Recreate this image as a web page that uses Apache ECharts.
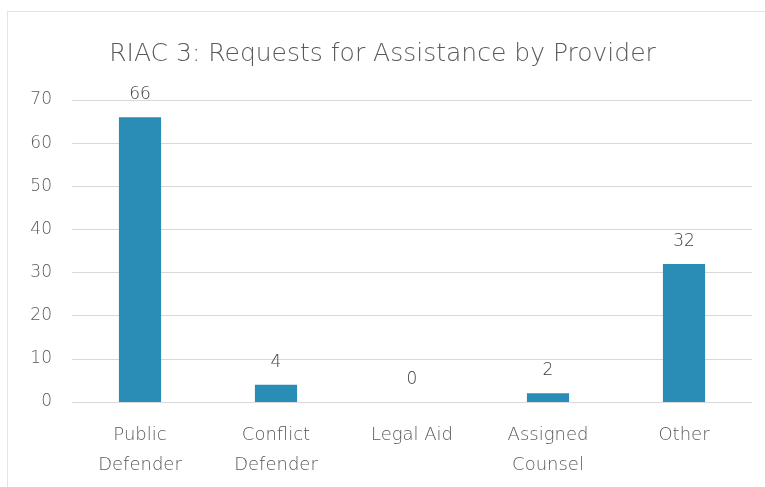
<!DOCTYPE html>
<html>
<head>
<meta charset="utf-8">
<script src="https://cdn.jsdelivr.net/npm/echarts@6/dist/echarts.min.js"></script>
<style>
    html, body { margin: 0; padding: 0; background: #fff; }
    #wrap { position: relative; width: 765px; height: 487px; overflow: hidden; }
    #frame { position: absolute; left: 7px; top: 11px; width: 800px; height: 520px; border: 1px solid #e3e3e3; }
    #main { position: absolute; left: 0; top: 0; width: 765px; height: 487px; }
</style>
</head>
<body>
<div id="wrap">
    <div id="frame"></div>
    <div id="main"></div>
</div>
<script>
// 图表数据
var categories = ["Public\nDefender", "Conflict\nDefender", "Legal Aid", "Assigned\nCounsel", "Other"];
var requests = [66, 4, 0, 2, 32];
var yTicks = [0, 10, 20, 30, 40, 50, 60, 70];

var myChart = echarts.init(document.getElementById('main'));
var font = '"DejaVu Sans", sans-serif';

var option = {
    animation: false,
    title: {
        text: "RIAC 3: Requests for Assistance by Provider",
        left: 'center',
        top: 37,
        textStyle: { fontFamily: font, fontWeight: 200, fontSize: 25, color: '#595959' }
    },
    grid: { left: 72, right: 13, top: 100, bottom: 85 },
    xAxis: {
        type: 'category',
        data: categories,
        axisLine: { lineStyle: { color: '#d9d9d9' } },
        axisTick: { show: false },
        axisLabel: {
            fontFamily: font, fontWeight: 200, fontSize: 18, color: '#595959',
            lineHeight: 30, margin: 18
        }
    },
    yAxis: {
        type: 'value',
        min: yTicks[0],
        max: yTicks[yTicks.length - 1],
        interval: 10,
        axisLine: { show: false },
        axisTick: { show: false },
        splitLine: { lineStyle: { color: '#d9d9d9' } },
        axisLabel: { fontFamily: font, fontWeight: 200, fontSize: 17, color: '#595959', margin: 20 }
    },
    series: [{
        type: 'bar',
        data: requests,
        barWidth: '31%',
        itemStyle: { color: '#2a8db5' },
        label: {
            show: true, position: 'top', distance: 14,
            fontFamily: font, fontWeight: 200, fontSize: 17, color: '#404040'
        }
    }]
};

myChart.setOption(option);
</script>
</body>
</html>
